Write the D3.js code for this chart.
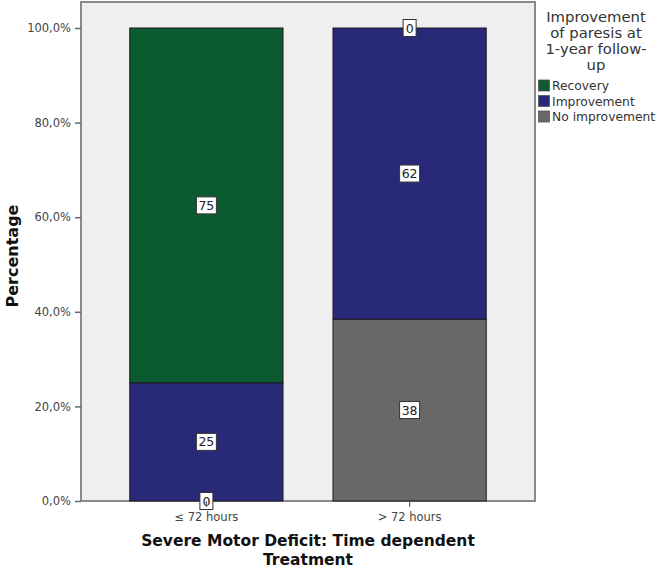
<!DOCTYPE html>
<html><head><meta charset="utf-8">
<script src="https://cdn.jsdelivr.net/npm/d3@7"></script>
<style>body{margin:0;background:#fff;} svg{display:block;}</style>
</head><body>
<svg id="c" width="658" height="569"></svg>
<script>
const categories = ["≤ 72 hours", "> 72 hours"];
const seriesNames = ["No improvement", "Improvement", "Recovery"];
const noImprovement = [0, 38.46];
const improvement = [25, 61.54];
const recovery = [75, 0];
const yTicks = [0, 20, 40, 60, 80, 100];
const legendTitle = ["Improvement", "of paresis at", "1-year follow-", "up"];
const legendItems = ["Recovery", "Improvement", "No improvement"];
const colors = {"Recovery": "#0c5a2f", "Improvement": "#29297a", "No improvement": "#686868"};

const svg = d3.select("#c");
const font = "DejaVu Sans, sans-serif";
const L = 81, R = 535, T = 2, B = 501;

const y = d3.scaleLinear().domain([0, 100]).range([B, 28]);
const x = d3.scaleBand().domain(categories).range([L, R]).paddingInner(0.246).paddingOuter(0.24);

// plot background & frame
svg.append("rect").attr("x", L).attr("y", T).attr("width", R - L).attr("height", B - T)
  .attr("fill", "#efefef").attr("stroke", "#8a8a8a").attr("stroke-width", 2);

const table = categories.map((c, i) => ({cat: c, "No improvement": noImprovement[i], "Improvement": improvement[i], "Recovery": recovery[i]}));
const stack = d3.stack().keys(seriesNames)(table);

const g = svg.append("g");
stack.forEach(layer => {
  layer.forEach(d => {
    const h = y(d[0]) - y(d[1]);
    if (h > 0) {
      g.append("rect").attr("x", x(d.data.cat)).attr("y", y(d[1]))
        .attr("width", x.bandwidth()).attr("height", h)
        .attr("fill", colors[layer.key]).attr("stroke", "#1a1a1a").attr("stroke-width", 1);
    }
  });
});
// labels
stack.forEach(layer => {
  layer.forEach(d => {
    const v = d[1] - d[0];
    const cx = x(d.data.cat) + x.bandwidth() / 2;
    const cy = (y(d[0]) + y(d[1])) / 2;
    const txt = String(Math.round(v));
    const w = txt.length > 1 ? 20 : 13;
    g.append("rect").attr("x", cx - w / 2).attr("y", cy - 8.5).attr("width", w).attr("height", 17)
      .attr("fill", "#fff").attr("stroke", "#333").attr("stroke-width", 1);
    g.append("text").attr("x", cx).attr("y", cy + 4.5).attr("text-anchor", "middle")
      .attr("font-family", font).attr("font-size", 12.5).attr("fill", "#222").text(txt);
  });
});

// y axis
const ya = svg.append("g").attr("transform", `translate(${L},0)`)
  .call(d3.axisLeft(y).tickValues(yTicks).tickSize(6).tickFormat(d => d3.format(".1f")(d).replace(".", ",") + "%"));
ya.select(".domain").remove();
ya.selectAll(".tick line").attr("stroke", "#666").attr("stroke-width", 1.5);
ya.selectAll("text").attr("font-family", font).attr("font-size", 11.5).attr("fill", "#444").attr("dx", "-1");

// x axis
const xa = svg.append("g").attr("transform", `translate(0,${B})`)
  .call(d3.axisBottom(x).tickSize(6));
xa.select(".domain").remove();
xa.selectAll(".tick line").attr("stroke", "#666").attr("stroke-width", 1.2);
xa.selectAll("text").attr("font-family", font).attr("font-size", 11.5).attr("fill", "#444").attr("dy", "0.95em");

// axis titles
svg.append("text").attr("x", 308).attr("y", 546).attr("text-anchor", "middle")
  .attr("font-family", font).attr("font-weight", "bold").attr("font-size", 15.5).attr("fill", "#111")
  .text("Severe Motor Deficit: Time dependent");
svg.append("text").attr("x", 308).attr("y", 565).attr("text-anchor", "middle")
  .attr("font-family", font).attr("font-weight", "bold").attr("font-size", 15.5).attr("fill", "#111")
  .text("Treatment");
svg.append("text").attr("transform", "translate(18,256) rotate(-90)").attr("text-anchor", "middle")
  .attr("font-family", font).attr("font-weight", "bold").attr("font-size", 16).attr("fill", "#111")
  .text("Percentage");

// legend
legendTitle.forEach((t, i) => {
  svg.append("text").attr("x", 596).attr("y", 22 + i * 16).attr("text-anchor", "middle")
    .attr("font-family", font).attr("font-size", 14.8).attr("fill", "#333").text(t);
});
legendItems.forEach((t, i) => {
  const yy = 80 + i * 15.5;
  svg.append("rect").attr("x", 538.5).attr("y", yy).attr("width", 11).attr("height", 11)
    .attr("fill", colors[t]).attr("stroke", "#555").attr("stroke-width", 0.8);
  svg.append("text").attr("x", 552).attr("y", yy + 10).attr("font-family", font)
    .attr("font-size", 12.3).attr("fill", "#333").text(t);
});
</script>
</body></html>
